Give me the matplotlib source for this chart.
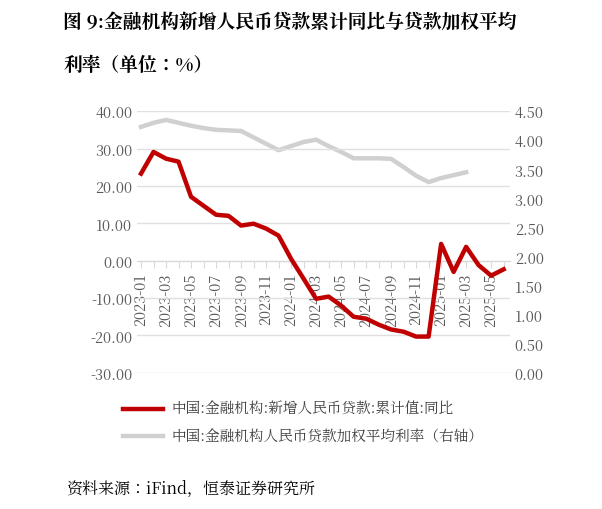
import matplotlib
matplotlib.use("Agg")
import matplotlib.pyplot as plt
from matplotlib import font_manager as fm
import numpy as np

cjk = None
for f in fm.fontManager.ttflist:
    if "CJK" in f.name and "SC" in f.name:
        cjk = f.name
        break
if cjk is None:
    for f in fm.fontManager.ttflist:
        if "CJK" in f.name:
            cjk = f.name
            break
plt.rcParams["font.family"] = [cjk or "Noto Sans CJK SC", "DejaVu Sans"]

months = [f"{y}-{m:02d}" for y in (2023, 2024, 2025) for m in range(1, 13)][:30]
loan_yoy = [23.3, 29.1, 27.3, 26.5, 17.1, 14.7, 12.3, 12.0, 9.4, 9.9, 8.6, 6.7,
            0.5, -4.8, -10.2, -9.6, -12.0, -15.0, -15.5, -17.1, -18.4, -19.0, -20.3, -20.3,
            4.5, -3.0, 3.7, -1.2, -4.0, -2.3]
rate = [4.23, 4.30, 4.35, 4.30, 4.25, 4.21, 4.18, 4.17, 4.16, 4.05, 3.94, 3.83,
        3.90, 3.97, 4.01, 3.90, 3.80, 3.69, 3.69, 3.69, 3.68, 3.54, 3.39, 3.28,
        3.35, 3.40, 3.45, np.nan, np.nan, np.nan]

fig = plt.figure(figsize=(6.02, 5.1), dpi=100)
ax = fig.add_axes([0.228, 0.267, 0.619, 0.513])
ax2 = ax.twinx()
x = np.arange(len(months))
ax.plot(x, loan_yoy, color="#C00000", lw=3.2, zorder=3)
ax2.plot(x, rate, color="#D0D0D0", lw=3.2, zorder=2)
ax.set_zorder(ax2.get_zorder() + 1)
ax.patch.set_visible(False)

ax.set_ylim(-30, 40)
ax2.set_ylim(0, 4.5)
ax.set_yticks(np.arange(-30, 41, 10))
ax.set_yticklabels([f"{v:.2f}" for v in np.arange(-30, 41, 10)])
ax2.set_yticks(np.arange(0, 4.51, 0.5))
ax2.set_yticklabels([f"{v:.2f}" for v in np.arange(0, 4.51, 0.5)])
ax.grid(axis="y", color="#E0E0E0", lw=1)
ax.set_xlim(-0.3, 29.5)
ax.set_xticks(x)
ax.set_xticklabels([m if i % 2 == 0 else "" for i, m in enumerate(months)])
ax.tick_params(axis="x", labelrotation=90, labelsize=10.5, labelcolor="#595959",
               length=5, color="#D9D9D9")
ax.spines["bottom"].set_position(("data", 0))
ax.spines["bottom"].set_color("#D9D9D9")
for a in (ax, ax2):
    for s in ("top", "left", "right"):
        a.spines[s].set_visible(False)
    a.tick_params(axis="y", length=0, labelsize=10.5, labelcolor="#595959")
ax2.spines["bottom"].set_visible(False)

fig.text(0.105, 0.955, "图 9:金融机构新增人民币贷款累计同比与贷款加权平均", fontsize=13.5,
         fontweight="bold", va="center")
fig.text(0.105, 0.87, "利率（单位：%）", fontsize=13.5, fontweight="bold", va="center")

fig.lines.append(plt.Line2D([0.205, 0.27], [0.197, 0.197], transform=fig.transFigure,
                            color="#C00000", lw=3.2))
fig.text(0.285, 0.197, "中国:金融机构:新增人民币贷款:累计值:同比", fontsize=10.5,
         color="#404040", va="center")
fig.lines.append(plt.Line2D([0.205, 0.27], [0.143, 0.143], transform=fig.transFigure,
                            color="#D0D0D0", lw=3.2))
fig.text(0.285, 0.143, "中国:金融机构人民币贷款加权平均利率（右轴）", fontsize=10.5,
         color="#404040", va="center")
fig.text(0.11, 0.04, "资料来源：iFind，恒泰证券研究所", fontsize=11.5, style="italic",
         va="center")
fig.savefig("out.png", dpi=100)
